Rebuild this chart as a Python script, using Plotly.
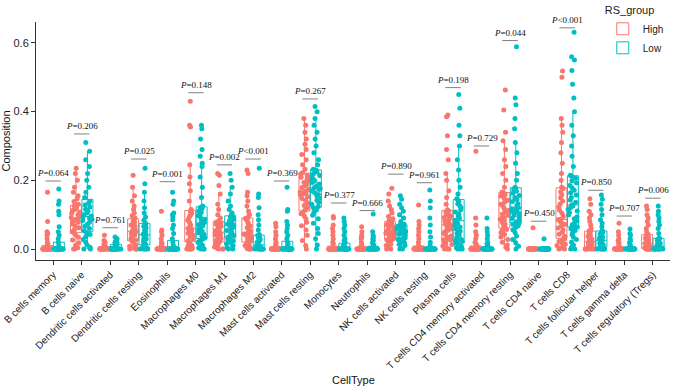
import plotly.graph_objects as go

categories = ["B cells memory", "B cells naive", "Dendritic cells activated", "Dendritic cells resting",
              "Eosinophils", "Macrophages M0", "Macrophages M1", "Macrophages M2", "Mast cells activated",
              "Mast cells resting", "Monocytes", "Neutrophils", "NK cells activated", "NK cells resting",
              "Plasma cells", "T cells CD4 memory activated", "T cells CD4 memory resting", "T cells CD4 naive",
              "T cells CD8", "T cells follicular helper", "T cells gamma delta", "T cells regulatory (Tregs)"]

p_labels = ["=0.064", "=0.206", "=0.761", "=0.025", "=0.001", "=0.148", "=0.002", "<0.001", "=0.369", "=0.267",
            "=0.377", "=0.666", "=0.890", "=0.961", "=0.198", "=0.729", "=0.044", "=0.450", "<0.001", "=0.850",
            "=0.707", "=0.006"]

p_line_y = [0.198, 0.335, 0.062, 0.262, 0.196, 0.455, 0.245, 0.262, 0.198, 0.437, 0.134, 0.112, 0.218, 0.193,
            0.470, 0.300, 0.607, 0.081, 0.644, 0.171, 0.096, 0.148]

high_values = [
    # B cells memory
    [0, 0, 0, 0, 0, 0, 0, 0, 0, 0, 0, 0, 0, 0, 0, 0, 0, 0, 0, 0, 0, 0,
     0.002, 0.004, 0.006, 0.01, 0.015, 0.02, 0.03, 0.04, 0.045, 0.05, 0.08, 0.165],
    # B cells naive
    [0, 0, 0.004, 0.01, 0.018, 0.026, 0.034, 0.04, 0.045,
     0.05, 0.056, 0.062, 0.068, 0.073, 0.078, 0.082, 0.086, 0.089,
     0.092, 0.096, 0.1, 0.104, 0.108, 0.112, 0.116, 0.12, 0.125,
     0.13, 0.138, 0.146, 0.155, 0.165, 0.18, 0.2, 0.22, 0.235],
    # Dendritic cells activated
    [0, 0, 0, 0, 0, 0, 0, 0, 0, 0, 0, 0, 0, 0, 0, 0, 0, 0, 0, 0,
     0.002, 0.003, 0.005, 0.006, 0.008, 0.01, 0.012, 0.014, 0.016, 0.02, 0.025, 0.04],
    # Dendritic cells resting
    [0, 0, 0, 0, 0.004, 0.008, 0.012, 0.018, 0.022,
     0.026, 0.03, 0.034, 0.038, 0.041, 0.044, 0.046, 0.048, 0.05,
     0.053, 0.057, 0.062, 0.066, 0.07, 0.074, 0.078, 0.082, 0.086,
     0.09, 0.097, 0.105, 0.115, 0.125, 0.14, 0.155, 0.18, 0.215],
    # Eosinophils
    [0, 0, 0, 0, 0, 0, 0, 0, 0, 0, 0, 0, 0, 0, 0, 0, 0, 0, 0, 0, 0, 0, 0, 0,
     0.003, 0.006, 0.01, 0.015, 0.02, 0.03, 0.04, 0.05, 0.055, 0.11],
    # Macrophages M0
    [0, 0, 0, 0, 0.003, 0.007, 0.011, 0.015, 0.019,
     0.024, 0.03, 0.036, 0.041, 0.046, 0.05, 0.054, 0.057, 0.059,
     0.063, 0.07, 0.077, 0.084, 0.09, 0.096, 0.1, 0.105, 0.109,
     0.115, 0.14, 0.17, 0.19, 0.21, 0.245, 0.355, 0.36, 0.43],
    # Macrophages M1
    [0, 0, 0, 0.002, 0.006, 0.01, 0.013, 0.016, 0.019,
     0.022, 0.026, 0.03, 0.034, 0.038, 0.041, 0.044, 0.046, 0.047,
     0.05, 0.054, 0.058, 0.062, 0.066, 0.07, 0.073, 0.076, 0.079,
     0.082, 0.09, 0.1, 0.115, 0.13, 0.16, 0.185, 0.215, 0.22],
    # Macrophages M2
    [0, 0, 0, 0.002, 0.006, 0.01, 0.013, 0.016, 0.019,
     0.022, 0.026, 0.029, 0.032, 0.035, 0.038, 0.041, 0.043, 0.044,
     0.047, 0.052, 0.057, 0.062, 0.067, 0.073, 0.078, 0.084, 0.089,
     0.092, 0.1, 0.11, 0.125, 0.14, 0.155, 0.165, 0.22, 0.23],
    # Mast cells activated
    [0, 0, 0, 0, 0, 0, 0, 0, 0, 0, 0, 0, 0, 0, 0, 0, 0, 0, 0, 0, 0, 0, 0, 0,
     0.003, 0.006, 0.01, 0.015, 0.02, 0.03, 0.04, 0.05, 0.065, 0.075],
    # Mast cells resting
    [0, 0.01, 0.025, 0.04, 0.055, 0.068, 0.078, 0.088, 0.096, 0.103, 0.108,
     0.113, 0.12, 0.127, 0.134, 0.141, 0.147, 0.152, 0.157, 0.161, 0.164, 0.166,
     0.169, 0.174, 0.179, 0.184, 0.189, 0.194, 0.199, 0.204, 0.209, 0.214, 0.219,
     0.222, 0.232, 0.245, 0.26, 0.275, 0.29, 0.305, 0.32, 0.34, 0.36, 0.38],
    # Monocytes
    [0, 0, 0, 0, 0, 0, 0, 0, 0, 0, 0, 0, 0, 0, 0, 0, 0, 0, 0, 0, 0, 0, 0, 0, 0, 0,
     0.003, 0.006, 0.015, 0.02, 0.03, 0.04, 0.05, 0.06, 0.07, 0.09, 0.095],
    # Neutrophils
    [0, 0, 0, 0, 0, 0, 0, 0, 0, 0, 0, 0, 0, 0, 0, 0, 0, 0, 0, 0, 0, 0, 0, 0,
     0.004, 0.008, 0.012, 0.02, 0.03, 0.035, 0.04, 0.05, 0.065],
    # NK cells activated
    [0, 0, 0.005, 0.01, 0.014, 0.018, 0.021, 0.024, 0.027,
     0.029, 0.032, 0.035, 0.038, 0.041, 0.044, 0.046, 0.048, 0.049,
     0.051, 0.055, 0.059, 0.063, 0.067, 0.07, 0.073, 0.076, 0.079,
     0.082, 0.088, 0.095, 0.105, 0.115, 0.125, 0.14, 0.16, 0.177],
    # NK cells resting
    [0, 0, 0, 0, 0, 0, 0, 0, 0, 0, 0, 0, 0, 0, 0, 0, 0, 0, 0, 0, 0, 0, 0, 0,
     0.003, 0.006, 0.01, 0.02, 0.03, 0.04, 0.05, 0.06, 0.07, 0.08, 0.128],
    # Plasma cells
    [0, 0, 0, 0.004, 0.009, 0.013, 0.017, 0.021, 0.024, 0.026, 0.027,
     0.03, 0.034, 0.038, 0.042, 0.046, 0.05, 0.054, 0.058, 0.062, 0.066, 0.069,
     0.072, 0.076, 0.08, 0.084, 0.088, 0.092, 0.096, 0.1, 0.104, 0.108, 0.111,
     0.114, 0.13, 0.15, 0.17, 0.2, 0.22, 0.26, 0.29, 0.33, 0.385, 0.39],
    # T cells CD4 memory activated
    [0, 0, 0, 0, 0, 0, 0, 0, 0, 0, 0, 0, 0, 0, 0, 0, 0, 0, 0, 0, 0, 0, 0, 0,
     0.003, 0.006, 0.01, 0.015, 0.02, 0.03, 0.04, 0.05, 0.07, 0.09, 0.285],
    # T cells CD4 memory resting
    [0, 0.005, 0.012, 0.02, 0.028, 0.035, 0.042, 0.048, 0.053, 0.057, 0.059,
     0.062, 0.067, 0.072, 0.077, 0.082, 0.087, 0.091, 0.095, 0.098, 0.101, 0.103,
     0.106, 0.112, 0.118, 0.124, 0.13, 0.136, 0.142, 0.148, 0.154, 0.159, 0.163,
     0.166, 0.18, 0.2, 0.22, 0.24, 0.26, 0.29, 0.315, 0.34, 0.405, 0.463],
    # T cells CD4 naive
    [0, 0, 0, 0, 0, 0, 0, 0, 0, 0, 0, 0, 0, 0, 0, 0, 0, 0, 0, 0, 0, 0, 0, 0, 0, 0, 0, 0, 0, 0,
     0.062],
    # T cells CD8
    [0, 0, 0.002, 0.006, 0.01, 0.014, 0.018, 0.022, 0.026, 0.029, 0.03,
     0.032, 0.037, 0.043, 0.049, 0.055, 0.061, 0.067, 0.072, 0.077, 0.081, 0.085,
     0.087, 0.095, 0.104, 0.113, 0.122, 0.131, 0.14, 0.149, 0.158, 0.167, 0.176,
     0.18, 0.2, 0.22, 0.25, 0.28, 0.31, 0.34, 0.36, 0.38, 0.5, 0.518],
    # T cells follicular helper
    [0, 0, 0, 0, 0, 0, 0, 0.001, 0.002,
     0.003, 0.005, 0.008, 0.011, 0.013, 0.015, 0.017, 0.019, 0.02,
     0.022, 0.025, 0.029, 0.033, 0.037, 0.041, 0.045, 0.048, 0.051,
     0.053, 0.06, 0.07, 0.08, 0.09, 0.1, 0.11, 0.13, 0.146],
    # T cells gamma delta
    [0, 0, 0, 0, 0, 0, 0, 0, 0, 0, 0, 0, 0, 0, 0, 0, 0, 0, 0, 0, 0, 0, 0, 0,
     0.003, 0.006, 0.01, 0.015, 0.02, 0.025, 0.03, 0.04, 0.05, 0.075],
    # T cells regulatory (Tregs)
    [0, 0, 0, 0, 0, 0, 0, 0, 0.001,
     0.002, 0.004, 0.006, 0.008, 0.01, 0.012, 0.013, 0.014, 0.015,
     0.017, 0.02, 0.023, 0.026, 0.029, 0.032, 0.035, 0.038, 0.04,
     0.043, 0.05, 0.06, 0.07, 0.08, 0.09, 0.1, 0.115, 0.125],
]

low_values = [
    # B cells memory
    [0, 0, 0, 0, 0, 0, 0, 0, 0, 0, 0, 0, 0, 0, 0, 0, 0, 0, 0, 0, 0, 0, 0, 0, 0, 0,
     0.004, 0.01, 0.02, 0.03, 0.04, 0.05, 0.065, 0.1, 0.11, 0.13, 0.14, 0.175],
    # B cells naive
    [0, 0, 0.005, 0.012, 0.02, 0.028, 0.036, 0.042, 0.048,
     0.053, 0.06, 0.066, 0.072, 0.078, 0.083, 0.087, 0.09, 0.093,
     0.096, 0.1, 0.105, 0.11, 0.116, 0.122, 0.128, 0.134, 0.139,
     0.15, 0.165, 0.18, 0.2, 0.22, 0.24, 0.26, 0.285, 0.31],
    # Dendritic cells activated
    [0, 0, 0, 0, 0, 0, 0, 0, 0, 0, 0, 0, 0, 0, 0, 0, 0, 0,
     0.002, 0.004, 0.006, 0.008, 0.01, 0.012, 0.015, 0.018, 0.02, 0.022, 0.025, 0.028, 0.03, 0.035],
    # Dendritic cells resting
    [0, 0, 0, 0, 0, 0.002, 0.005, 0.008, 0.011,
     0.014, 0.018, 0.022, 0.026, 0.029, 0.032, 0.035, 0.037, 0.04,
     0.043, 0.046, 0.05, 0.054, 0.058, 0.062, 0.066, 0.069, 0.072,
     0.076, 0.084, 0.093, 0.105, 0.12, 0.14, 0.165, 0.19, 0.235],
    # Eosinophils
    [0, 0, 0, 0, 0, 0, 0, 0, 0, 0, 0, 0, 0, 0, 0, 0, 0, 0, 0, 0, 0, 0, 0, 0, 0, 0, 0, 0, 0, 0,
     0.004, 0.01, 0.02, 0.03, 0.045, 0.06, 0.07, 0.085, 0.095, 0.1, 0.105, 0.13, 0.14, 0.165],
    # Macrophages M0
    [0, 0, 0, 0.003, 0.007, 0.011, 0.015, 0.019, 0.023, 0.026, 0.029,
     0.032, 0.037, 0.042, 0.047, 0.052, 0.056, 0.06, 0.064, 0.068, 0.071, 0.074,
     0.077, 0.082, 0.087, 0.092, 0.097, 0.102, 0.107, 0.111, 0.115, 0.118, 0.121,
     0.125, 0.15, 0.18, 0.21, 0.24, 0.25, 0.27, 0.29, 0.32, 0.35, 0.36],
    # Macrophages M1
    [0, 0, 0.004, 0.01, 0.015, 0.02, 0.024, 0.028, 0.031,
     0.034, 0.039, 0.044, 0.049, 0.054, 0.058, 0.062, 0.065, 0.067,
     0.07, 0.073, 0.076, 0.079, 0.083, 0.087, 0.09, 0.093, 0.095,
     0.098, 0.105, 0.115, 0.125, 0.14, 0.16, 0.18, 0.2, 0.22],
    # Macrophages M2
    [0, 0, 0, 0, 0, 0, 0, 0, 0.001,
     0.002, 0.003, 0.004, 0.005, 0.006, 0.007, 0.008, 0.01, 0.011,
     0.013, 0.016, 0.02, 0.024, 0.028, 0.031, 0.034, 0.037, 0.039,
     0.042, 0.055, 0.07, 0.085, 0.1, 0.12, 0.15, 0.16, 0.235],
    # Mast cells activated
    [0, 0, 0, 0, 0, 0, 0, 0, 0, 0, 0, 0, 0, 0, 0, 0, 0, 0, 0, 0, 0, 0, 0, 0,
     0.003, 0.008, 0.015, 0.02, 0.03, 0.04, 0.05, 0.06, 0.07, 0.08, 0.11, 0.115, 0.18],
    # Mast cells resting
    [0, 0.012, 0.03, 0.045, 0.06, 0.075, 0.088, 0.098, 0.107, 0.114, 0.12,
     0.124, 0.13, 0.136, 0.142, 0.148, 0.154, 0.159, 0.164, 0.169, 0.173, 0.176,
     0.179, 0.184, 0.189, 0.194, 0.199, 0.204, 0.209, 0.214, 0.219, 0.224, 0.229,
     0.232, 0.245, 0.26, 0.28, 0.3, 0.32, 0.34, 0.36, 0.38, 0.4, 0.415],
    # Monocytes
    [0, 0, 0, 0, 0, 0, 0, 0, 0, 0, 0, 0, 0, 0, 0, 0, 0, 0, 0, 0, 0, 0,
     0.002, 0.005, 0.008, 0.011, 0.014, 0.02, 0.025, 0.03, 0.04, 0.05, 0.06, 0.07, 0.08, 0.09],
    # Neutrophils
    [0, 0, 0, 0, 0, 0, 0, 0, 0, 0, 0, 0, 0, 0, 0, 0, 0, 0, 0, 0, 0, 0, 0, 0,
     0.004, 0.008, 0.012, 0.018, 0.025, 0.03, 0.035, 0.04, 0.05, 0.102],
    # NK cells activated
    [0, 0, 0.005, 0.01, 0.014, 0.018, 0.021, 0.024, 0.027,
     0.029, 0.032, 0.036, 0.04, 0.043, 0.046, 0.049, 0.051, 0.052,
     0.054, 0.056, 0.058, 0.06, 0.062, 0.064, 0.066, 0.068, 0.069,
     0.072, 0.08, 0.09, 0.1, 0.11, 0.12, 0.13, 0.145, 0.155],
    # NK cells resting
    [0, 0, 0, 0, 0, 0, 0, 0, 0, 0, 0, 0, 0, 0, 0, 0, 0, 0, 0, 0, 0, 0, 0, 0, 0, 0, 0, 0,
     0.004, 0.01, 0.02, 0.035, 0.05, 0.07, 0.09, 0.12, 0.14, 0.172],
    # Plasma cells
    [0, 0, 0, 0.004, 0.008, 0.012, 0.016, 0.019, 0.022, 0.024, 0.025,
     0.028, 0.034, 0.04, 0.046, 0.052, 0.058, 0.064, 0.069, 0.074, 0.078, 0.081,
     0.084, 0.09, 0.096, 0.102, 0.108, 0.114, 0.12, 0.126, 0.132, 0.138, 0.142,
     0.146, 0.16, 0.18, 0.2, 0.23, 0.26, 0.3, 0.33, 0.36, 0.41, 0.45],
    # T cells CD4 memory activated
    [0, 0, 0, 0, 0, 0, 0, 0, 0, 0, 0, 0, 0, 0, 0, 0, 0, 0, 0, 0, 0, 0, 0, 0,
     0.003, 0.006, 0.01, 0.015, 0.02, 0.03, 0.04, 0.05, 0.06, 0.09],
    # T cells CD4 memory resting
    [0, 0.008, 0.018, 0.028, 0.038, 0.048, 0.056, 0.063, 0.068, 0.072, 0.075,
     0.079, 0.084, 0.089, 0.094, 0.099, 0.104, 0.108, 0.111, 0.114, 0.116, 0.117,
     0.12, 0.126, 0.132, 0.138, 0.144, 0.15, 0.156, 0.162, 0.168, 0.173, 0.177,
     0.18, 0.2, 0.22, 0.25, 0.28, 0.31, 0.35, 0.38, 0.42, 0.44, 0.589],
    # T cells CD4 naive
    [0, 0, 0, 0, 0, 0, 0, 0, 0, 0, 0, 0, 0, 0, 0, 0, 0, 0, 0, 0, 0, 0, 0, 0, 0, 0, 0, 0, 0, 0,
     0.03],
    # T cells CD8
    [0, 0, 0.005, 0.012, 0.02, 0.028, 0.035, 0.042, 0.048, 0.054, 0.059, 0.062, 0.064,
     0.066, 0.071, 0.076, 0.082, 0.088, 0.094, 0.1, 0.106, 0.111, 0.116, 0.121, 0.125, 0.127,
     0.129, 0.136, 0.143, 0.15, 0.157, 0.164, 0.171, 0.178, 0.185, 0.192, 0.199, 0.206, 0.212,
     0.215, 0.24, 0.27, 0.3, 0.33, 0.36, 0.4, 0.44, 0.48, 0.52, 0.55, 0.56, 0.631],
    # T cells follicular helper
    [0, 0, 0, 0, 0, 0, 0.001, 0.003, 0.004,
     0.006, 0.009, 0.012, 0.015, 0.018, 0.02, 0.022, 0.024, 0.025,
     0.026, 0.029, 0.032, 0.035, 0.038, 0.041, 0.044, 0.048, 0.051,
     0.054, 0.065, 0.075, 0.085, 0.1, 0.115, 0.13, 0.145, 0.157],
    # T cells gamma delta
    [0, 0, 0, 0, 0, 0, 0, 0, 0, 0, 0, 0, 0, 0, 0, 0, 0, 0, 0, 0, 0, 0, 0, 0,
     0.003, 0.006, 0.01, 0.015, 0.02, 0.025, 0.03, 0.04, 0.045, 0.058],
    # T cells regulatory (Tregs)
    [0, 0, 0, 0, 0, 0, 0, 0, 0,
     0, 0.001, 0.002, 0.003, 0.004, 0.005, 0.006, 0.007, 0.008,
     0.009, 0.011, 0.014, 0.017, 0.02, 0.023, 0.026, 0.028, 0.03,
     0.032, 0.045, 0.06, 0.07, 0.08, 0.09, 0.1, 0.11, 0.125],
]

group_names = ["High", "Low"]
group_colors = ["#F8766D", "#00BFC4"]

fig = go.Figure()
for name, color, values in zip(group_names, group_colors, [high_values, low_values]):
    xs, ys = [], []
    for cat, vals in zip(categories, values):
        xs.extend([cat] * len(vals))
        ys.extend(vals)
    fig.add_trace(go.Box(
        x=xs, y=ys, name=name,
        boxpoints="all", jitter=0.9, pointpos=0,
        fillcolor="rgba(255,255,255,0)",
        line=dict(color=color, width=1),
        whiskerwidth=0,
        marker=dict(color=color, size=5, opacity=1),
        hoverinfo="y",
    ))

shapes = []
annotations = []
for i, (lab, ly) in enumerate(zip(p_labels, p_line_y)):
    shapes.append(dict(type="line", xref="x", yref="y", x0=i - 0.27, x1=i + 0.27, y0=ly, y1=ly,
                       line=dict(color="#808080", width=1)))
    annotations.append(dict(x=i, y=ly, xref="x", yref="y", text="<i>P</i>" + lab, showarrow=False,
                            yanchor="bottom", yshift=1,
                            font=dict(family="Liberation Serif", size=9, color="#111111")))

annotations.append(dict(x=0.5, y=-0.505, xref="paper", yref="paper", text="CellType", showarrow=False,
                        xanchor="center", yanchor="middle",
                        font=dict(family="Liberation Sans", size=11, color="#111111")))

fig.update_layout(
    width=675, height=389,
    margin=dict(l=36, r=5, t=22, b=129, autoexpand=False),
    paper_bgcolor="white", plot_bgcolor="white",
    boxmode="group", boxgap=0.2, boxgroupgap=0.04,
    font=dict(family="Liberation Sans", size=10, color="#222222"),
    showlegend=True,
    legend=dict(title=dict(text="RS_group", font=dict(size=11, color="#222222")),
                xref="container", yref="container",
                x=0.893, y=1.01, xanchor="left", yanchor="top",
                bgcolor="rgba(255,255,255,0)", font=dict(size=10), tracegroupgap=0),
    shapes=shapes, annotations=annotations,
)
fig.update_xaxes(range=[-0.6, 21.6], tickangle=-45, showline=True, linecolor="#333333", linewidth=1,
                 ticks="outside", ticklen=4, tickcolor="#333333", showgrid=False, zeroline=False,
                 automargin=False, tickfont=dict(size=10, color="#222222"))
fig.update_yaxes(range=[-0.032, 0.661], tickvals=[0, 0.2, 0.4, 0.6], ticktext=["0.0", "0.2", "0.4", "0.6"],
                 showline=True, linecolor="#333333", linewidth=1, ticks="outside", ticklen=4,
                 tickcolor="#333333", showgrid=False, zeroline=False, automargin=False,
                 title=dict(text="Composition", font=dict(size=11, color="#111111"), standoff=4),
                 tickfont=dict(size=11, color="#222222"))

fig.write_html("out.html", config={"displayModeBar": False},
               post_script="document.body.style.margin='0';document.body.style.overflow='hidden';")
